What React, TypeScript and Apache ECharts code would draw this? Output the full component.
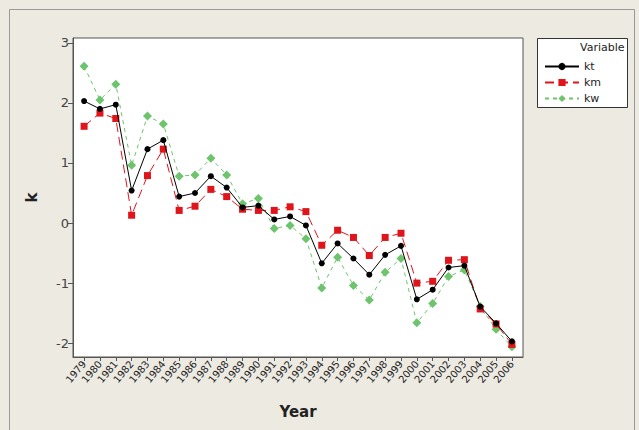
import React, { useEffect, useRef } from "react";
import * as echarts from "echarts";

const years = [1979,1980,1981,1982,1983,1984,1985,1986,1987,1988,1989,1990,1991,1992,1993,1994,1995,1996,1997,1998,1999,2000,2001,2002,2003,2004,2005,2006];
const kt = [2.03,1.90,1.97,0.54,1.23,1.38,0.44,0.50,0.78,0.59,0.26,0.29,0.06,0.11,-0.04,-0.67,-0.34,-0.59,-0.86,-0.53,-0.38,-1.27,-1.11,-0.74,-0.71,-1.39,-1.67,-1.97];
const km = [1.61,1.83,1.74,0.13,0.79,1.23,0.21,0.28,0.56,0.44,0.23,0.21,0.21,0.27,0.19,-0.37,-0.12,-0.24,-0.54,-0.24,-0.17,-1.00,-0.97,-0.62,-0.61,-1.43,-1.68,-2.02];
const kw = [2.61,2.05,2.31,0.96,1.78,1.65,0.78,0.80,1.08,0.80,0.32,0.41,-0.09,-0.04,-0.26,-1.08,-0.57,-1.04,-1.28,-0.82,-0.59,-1.66,-1.34,-0.89,-0.78,-1.39,-1.77,-2.06];
const yTicks = [-2,-1,0,1,2,3];

const font = "Tahoma, 'DejaVu Sans', Arial, sans-serif";

export default function App() {
  const ref = useRef<HTMLDivElement>(null);
  useEffect(() => {
    const chart = echarts.init(ref.current!, null, { renderer: "svg" });
    const pairs = (arr: number[]) => years.map((y, i) => [y, arr[i]]);
    chart.setOption({
      animation: false,
      backgroundColor: "#EDEAE2",
      textStyle: { fontFamily: font },
      grid: {
        left: 73, top: 38, right: 116, bottom: 73,
        show: true, backgroundColor: "#ffffff", borderColor: "#555555", borderWidth: 1,
      },
      xAxis: {
        type: "value", min: 1978.3, max: 2006.7,
        name: "Year", nameLocation: "middle", nameGap: 47,
        nameTextStyle: { fontSize: 15, fontWeight: "bold", color: "#222" },
        axisLine: { show: true, onZero: false, lineStyle: { color: "#555" } },
        axisTick: { show: true, length: 4, customValues: years, lineStyle: { color: "#555" } },
        axisLabel: { customValues: years, rotate: 50, fontSize: 10, color: "#222", margin: 5, formatter: (v: number) => String(v) },
        splitLine: { show: false },
      },
      yAxis: {
        type: "value", min: -2.23, max: 3.08,
        name: "k", nameLocation: "middle", nameGap: 34, nameRotate: 90,
        nameTextStyle: { fontSize: 15, fontWeight: "bold", color: "#222" },
        axisLine: { show: true, lineStyle: { color: "#555" } },
        axisTick: { show: true, length: 5, customValues: yTicks, lineStyle: { color: "#555" } },
        axisLabel: { customValues: yTicks, fontSize: 13, color: "#444", margin: 4 },
        splitLine: { show: false },
      },
      legend: {
        orient: "vertical", left: 539, top: 56,
        itemWidth: 34, itemHeight: 9, itemGap: 5,
        textStyle: { fontSize: 11, color: "#222" },
        data: ["kt", "km", "kw"],
      },
      graphic: [
        { type: "rect", left: 7, top: 7, shape: { x: 0, y: 0, width: 625, height: 430 }, style: { fill: "none", stroke: "#999", lineWidth: 1 }, silent: true, z: -1 },
        { type: "rect", shape: { x: 537.5, y: 38.5, width: 90, height: 69 }, style: { fill: "#fff", stroke: "#333", lineWidth: 1 }, z: -1 },
        { type: "text", x: 580, y: 42, style: { text: "Variable", fontSize: 11, fill: "#222", fontFamily: font } },
      ],
      series: [
        { name: "kt", type: "line", data: pairs(kt), symbol: "circle", symbolSize: 6,
          itemStyle: { color: "#000" }, lineStyle: { color: "#000", width: 1 }, z: 4 },
        { name: "km", type: "line", data: pairs(km), symbol: "rect", symbolSize: 7,
          itemStyle: { color: "#E0141B" }, lineStyle: { color: "#E0141B", width: 1, type: [9, 5] }, z: 3 },
        { name: "kw", type: "line", data: pairs(kw), symbol: "diamond", symbolSize: 9,
          itemStyle: { color: "#6DC46D" }, lineStyle: { color: "#6DC46D", width: 1, type: [4, 4] }, z: 2 },
      ],
    });
    return () => chart.dispose();
  }, []);
  return <div ref={ref} style={{ position: "absolute", left: 0, top: 0, width: 639, height: 430 }} />;
}
